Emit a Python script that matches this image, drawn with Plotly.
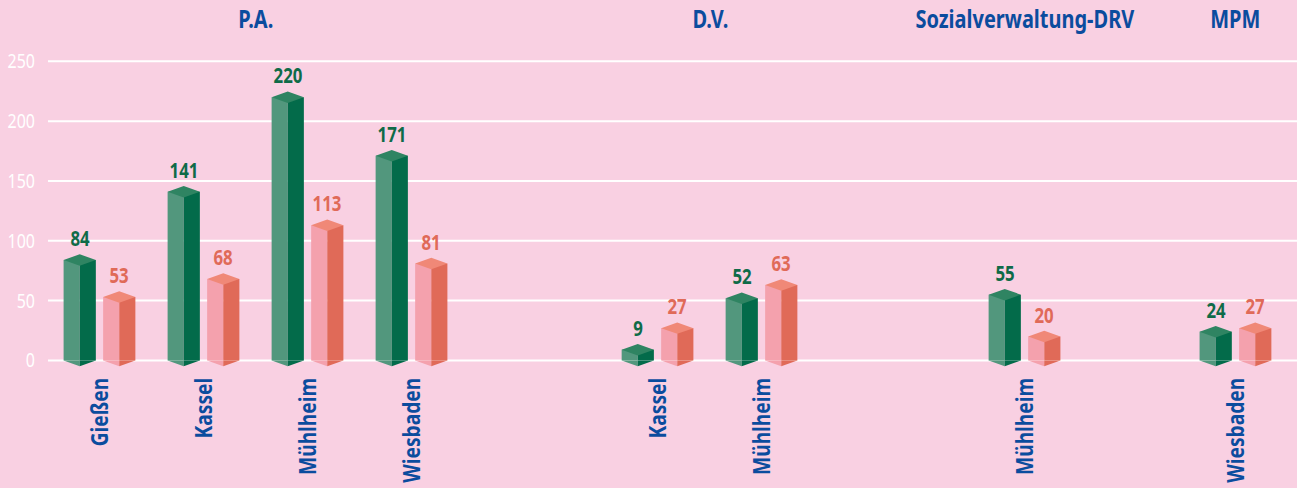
import plotly.graph_objects as go

# ---------------- data ----------------
groups = ["P.A.", "D.V.", "Sozialverwaltung-DRV", "MPM"]
categories = [
    ["Gießen", "Kassel", "Mühlheim", "Wiesbaden"],
    ["Kassel", "Mühlheim"],
    ["Mühlheim"],
    ["Wiesbaden"],
]
series_green = [
    [84, 141, 220, 171],
    [9, 52],
    [55],
    [24],
]
series_pink = [
    [53, 68, 113, 81],
    [27, 63],
    [20],
    [27],
]
y_ticks = [0, 50, 100, 150, 200, 250]

# ---------------- styles ----------------
BG = "#f9d0e2"
BLUE = "#0b4c9e"
FONT = "Noto Sans, sans-serif"
GREEN = dict(left="#52977d", right="#036b4a", top="#2f8462", text="#0f6b48")
PINK = dict(left="#f4a1ad", right="#e06a58", top="#f08877", text="#e06a58")
domains = [(0.0, 0.3331), (0.4468, 0.6133), (0.7406, 0.8239), (0.9095, 0.9928)]
HALF = 0.155          # width of one face (category units)
CAP = 4.8             # half-height of the top diamond (value units)
OFFSETS = {"green": -0.35, "pink": 0.03}

fig = go.Figure()
annotations = []

for gi, (gname, cats) in enumerate(zip(groups, categories)):
    xa = f"x{gi + 2}"
    idx = list(range(len(cats)))
    for key, vals, col in (("green", series_green[gi], GREEN),
                           ("pink", series_pink[gi], PINK)):
        off = OFFSETS[key]
        # front-left and right faces
        fig.add_trace(go.Bar(x=idx, y=vals, offset=off, width=HALF,
                             marker=dict(color=col["left"], line=dict(width=0)),
                             xaxis=xa, yaxis="y", hoverinfo="skip", showlegend=False))
        fig.add_trace(go.Bar(x=idx, y=vals, offset=off + HALF, width=HALF,
                             marker=dict(color=col["right"], line=dict(width=0)),
                             xaxis=xa, yaxis="y", hoverinfo="skip", showlegend=False))
        # top caps (diamonds) and bottom points, computed from data
        tx, ty, blx, bly, brx, bry = [], [], [], [], [], []
        for i, v in zip(idx, vals):
            l, m, r = i + off, i + off + HALF, i + off + 2 * HALF
            tx += [l, m, r, m, l, None]
            ty += [v, v + CAP, v, v - CAP, v, None]
            blx += [l, m, m, l, None]
            bly += [0, -CAP, 0, 0, None]
            brx += [m, r, m, m, None]
            bry += [0, 0, -CAP, 0, None]
            annotations.append(dict(
                x=i + off + HALF, y=v, xref=xa, yref="y", text=str(v),
                showarrow=False, yanchor="bottom", yshift=6,
                font=dict(family=FONT, size=21, color=col["text"], weight="bold")))
        for xs, ys, c in ((tx, ty, col["top"]), (blx, bly, col["left"]),
                          (brx, bry, col["right"])):
            fig.add_trace(go.Scatter(x=xs, y=ys, mode="lines", fill="toself",
                                     fillcolor=c, line=dict(width=0, color=c),
                                     xaxis=xa, yaxis="y", hoverinfo="skip",
                                     showlegend=False))
    # group title
    annotations.append(dict(
        x=0.5, y=1, xref=f"{xa} domain", yref="paper", yanchor="bottom", yshift=10,
        text=gname, showarrow=False,
        font=dict(family=FONT, size=25, color=BLUE, weight="bold")))

# horizontal grid lines across the full width at the y tick values
shapes = [dict(type="line", xref="paper", yref="y", x0=0, x1=1, y0=t, y1=t,
               line=dict(color="white", width=2), layer="below") for t in y_ticks]

layout = dict(
    width=1297, height=488,
    paper_bgcolor=BG, plot_bgcolor=BG,
    margin=dict(l=48, r=0, t=47, b=118, autoexpand=False),
    barmode="overlay",
    showlegend=False,
    annotations=annotations,
    shapes=shapes,
    xaxis=dict(domain=[0, 1], range=[0, 1], visible=False, anchor="y",
               automargin=False, fixedrange=True),
    yaxis=dict(range=[-8, 262], tickvals=y_ticks, showgrid=False,
               zeroline=False, showline=False, automargin=False,
               ticks="", ticklabelstandoff=12, anchor="x",
               tickfont=dict(family=FONT, size=20, color="white"),
               fixedrange=True),
)
for gi, cats in enumerate(categories):
    layout[f"xaxis{gi + 2}"] = dict(
        domain=list(domains[gi]), anchor="y", range=[-0.5, len(cats) - 0.5],
        tickvals=list(range(len(cats))), ticktext=cats, tickangle=-90,
        showgrid=False, zeroline=False, showline=False, ticks="",
        ticklabelstandoff=2, automargin=False,
        tickfont=dict(family=FONT, size=24, color=BLUE, weight="bold"),
        fixedrange=True)

fig.update_layout(**layout)

# page margin reset + horizontal condensing of the text glyphs (no condensed
# font face is installed, so each text is narrowed about its own anchor point)
post = """
var s=document.createElement('style');
s.textContent='html,body{margin:0;padding:0;overflow:hidden}';
document.head.appendChild(s);
var gd=document.getElementById('{plot_id}');
function squeeze(){
  gd.querySelectorAll('svg text').forEach(function(t){
    var tr=t.getAttribute('transform')||'';
    if(tr.indexOf('scale(0.8,1)')>=0) return;
    var x=parseFloat(t.getAttribute('x'))||0, y=parseFloat(t.getAttribute('y'))||0;
    t.setAttribute('transform', tr+' translate('+x+','+y+') scale(0.8,1) translate('+(-x)+','+(-y)+')');
  });
}
squeeze();
if(gd.on){gd.on('plotly_afterplot', squeeze);}
setTimeout(squeeze, 50);
setTimeout(squeeze, 300);
"""
fig.write_html("out.html", post_script=post,
               config={"displayModeBar": False, "staticPlot": True})
